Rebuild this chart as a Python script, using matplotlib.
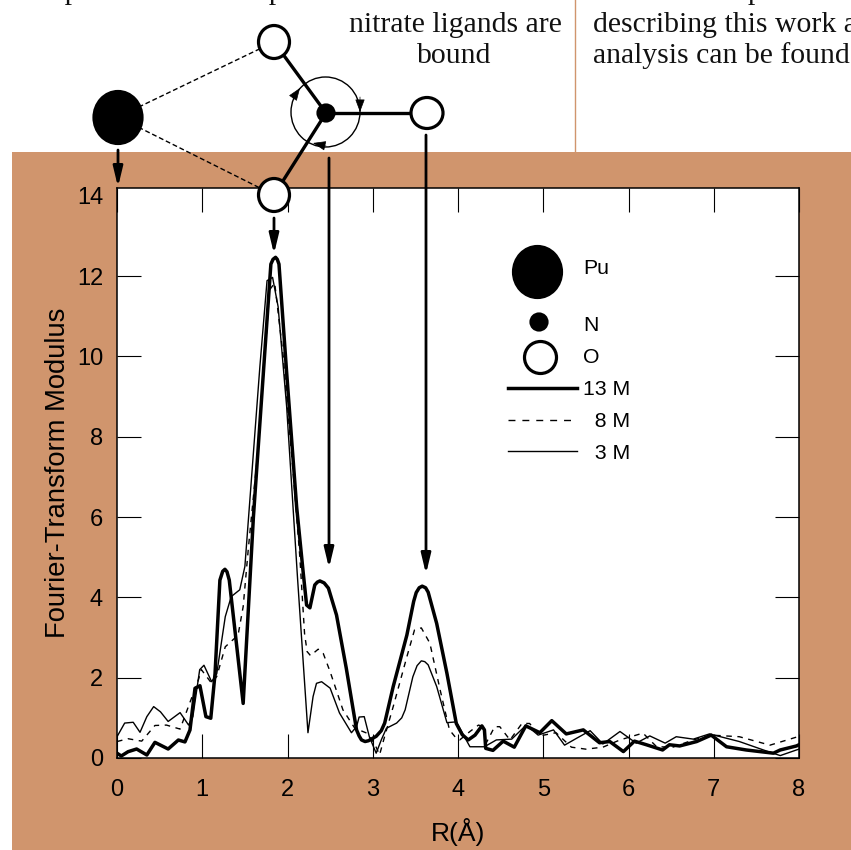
import matplotlib
matplotlib.use('Agg')
from matplotlib import pyplot as plt
from matplotlib.patches import Ellipse, Rectangle

TAN = '#d0956d'
SANS = 'Liberation Sans'
SERIF = 'Liberation Serif'

# values: R in angstrom, modulus
r_13m = [0.0, 0.05, 0.13, 0.23, 0.35, 0.445, 0.6, 0.72, 0.797, 0.856, 0.915, 0.973, 1.043, 1.10, 1.15,
         1.207, 1.24, 1.266, 1.29, 1.317, 1.48, 1.60, 1.805, 1.83, 1.86, 1.88, 1.90, 1.99, 2.107, 2.185, 2.224,
         2.263, 2.32, 2.35, 2.38, 2.43, 2.48, 2.575, 2.69, 2.81, 2.84, 2.868, 2.91, 2.95, 3.04, 3.10, 3.14, 3.24, 3.40, 3.48,
         3.51, 3.545, 3.58, 3.62, 3.65, 3.75, 3.87, 3.98,
         4.05, 4.12, 4.20, 4.28, 4.31, 4.325, 4.41, 4.53, 4.66, 4.795, 4.96, 5.10, 5.27, 5.47, 5.66, 5.78, 5.94,
         6.07, 6.21, 6.40, 6.48, 6.60, 6.80, 6.97, 7.15, 7.38, 7.70, 7.78, 7.97, 8.0]
m_13m = [0.12, 0.05, 0.157, 0.224, 0.075, 0.39, 0.224, 0.448, 0.4, 0.697, 1.736, 1.80, 1.03, 0.99, 2.1,
         4.43, 4.65, 4.70, 4.64, 4.43, 1.36, 6.0, 12.3, 12.42, 12.47, 12.42, 12.3, 9.6, 6.26, 4.6, 3.81,
         3.74, 4.31, 4.38, 4.41, 4.36, 4.23, 3.56, 2.23, 0.70, 0.55, 0.45, 0.41, 0.43, 0.54, 0.68, 0.87, 1.78, 3.06, 3.9,
         4.12, 4.24, 4.28, 4.24, 4.13, 3.35, 2.11, 0.86,
         0.58, 0.45, 0.57, 0.80, 0.70, 0.24, 0.19, 0.42, 0.27, 0.80, 0.63, 0.93, 0.60, 0.70, 0.38, 0.41, 0.16,
         0.42, 0.33, 0.20, 0.33, 0.30, 0.41, 0.57, 0.28, 0.20, 0.12, 0.20, 0.30, 0.33]

r_8m = [0.0, 0.13, 0.29, 0.445, 0.58, 0.74, 0.86, 0.955, 0.99, 1.11, 1.17, 1.27, 1.42, 1.48, 1.54, 1.657,
        1.79, 1.85, 1.95, 2.067, 2.145, 2.2, 2.23, 2.27, 2.36, 2.42, 2.50, 2.65, 2.79, 2.93, 3.02, 3.08,
        3.14, 3.24, 3.40, 3.49, 3.57, 3.67, 3.79, 3.90, 3.98, 4.02, 4.14, 4.24, 4.30, 4.33, 4.43, 4.49,
        4.61, 4.75, 4.84, 4.96, 5.15, 5.33, 5.50, 5.70, 5.90, 6.17, 6.33, 6.52, 6.76, 6.97, 7.30, 7.66,
        7.97, 8.0]
m_8m = [0.41, 0.48, 0.42, 0.81, 0.82, 0.72, 1.41, 1.95, 2.2, 1.86, 2.03, 2.77, 3.06, 3.77, 5.2, 7.75,
        11.66, 11.83, 10.0, 7.09, 5.0, 3.1, 2.65, 2.55, 2.71, 2.6, 2.15, 1.2, 0.74, 0.62, 0.36, 0.08,
        0.54, 1.28, 2.52, 3.19, 3.24, 2.86, 1.70, 0.70, 0.49, 0.45, 0.66, 0.82, 0.78, 0.37, 0.78, 0.78,
        0.45, 0.86, 0.86, 0.55, 0.63, 0.27, 0.22, 0.27, 0.45, 0.62, 0.28, 0.27, 0.45, 0.57, 0.53, 0.32,
        0.52, 0.54]

r_3m = [0.0, 0.09, 0.19, 0.27, 0.35, 0.43, 0.51, 0.60, 0.74, 0.84, 0.89, 0.97, 1.02, 1.11, 1.17, 1.27,
        1.34, 1.44, 1.50, 1.676, 1.76, 1.825, 1.89, 1.99, 2.118, 2.24, 2.30, 2.34, 2.40, 2.50, 2.61, 2.75,
        2.81, 2.84, 2.90, 2.96, 3.04, 3.10, 3.16, 3.28, 3.34, 3.38, 3.47, 3.52, 3.57, 3.61, 3.65, 3.75, 3.87, 3.98, 4.14,
        4.31, 4.45, 4.63, 4.80, 4.94, 5.12, 5.25, 5.39, 5.55, 5.70, 5.90, 6.09, 6.25, 6.43, 6.56, 6.76,
        6.95, 7.30, 7.61, 7.78, 7.97, 8.0]
m_3m = [0.53, 0.87, 0.89, 0.64, 1.03, 1.28, 1.15, 0.91, 1.13, 0.82, 1.03, 2.2, 2.31, 1.9, 2.1, 3.52,
        4.02, 4.19, 4.77, 9.75, 11.89, 11.97, 11.24, 8.75, 4.47, 0.63, 1.53, 1.86, 1.90, 1.74, 1.12, 0.63,
        0.78, 1.02, 1.03, 0.53, 0.12, 0.45, 0.74, 0.87, 1.0, 1.2, 2.02, 2.3, 2.42, 2.40, 2.32, 1.78, 0.88, 0.90, 0.28,
        0.28, 0.45, 0.47, 0.82, 0.57, 0.70, 0.32, 0.49, 0.68, 0.35, 0.66, 0.37, 0.55, 0.37, 0.53, 0.47,
        0.60, 0.41, 0.18, 0.06, 0.20, 0.22]

x_ticks = [0, 1, 2, 3, 4, 5, 6, 7, 8]
y_ticks = [0, 2, 4, 6, 8, 10, 12, 14]

fig = plt.figure(figsize=(8.51, 8.50), dpi=100)
W, H = 851, 850

# page overlay in pixel coordinates, for the tan panel, page text and the molecule
page = fig.add_axes([0, 0, 1, 1], zorder=0)
page.set_xlim(0, W)
page.set_ylim(H, 0)
page.axis('off')
page.add_patch(Rectangle((12, 152), W - 12, H - 152, fc=TAN, ec='none'))
page.plot([575, 575], [0, 152], color=TAN, lw=1)

for x, y, s, ha in [(455, 32, 'nitrate ligands are', 'center'), (454, 63, 'bound', 'center'),
                    (593, 32, 'describing this work a', 'left'), (593, 63, 'analysis can be found', 'left'),
                    (643, -1.5, 'The complete text', 'left'),
                    (34, -1.5, 'to position of these peaks indicates where', 'left')]:
    page.text(x, y, s, family=SERIF, fontsize=21.4, ha=ha, va='baseline', color='#111111', clip_on=True)

ax = fig.add_axes([117 / W, 1 - 758 / H, (799 - 117) / W, (758 - 188.5) / H], zorder=1)
ax.plot(r_3m, m_3m, color='black', lw=1.0, label='3 M', solid_joinstyle='round')
ax.plot(r_8m, m_8m, color='black', lw=1.0, ls=(0, (4, 4)), label='8 M')
ax.plot(r_13m, m_13m, color='black', lw=2.5, label='13 M', solid_joinstyle='round')
ax.set_xlim(0, 8)
ax.set_ylim(0, (758 - 188.5) / 40.15)
ax.set_xticks(x_ticks)
ax.set_yticks(y_ticks)
ax.tick_params(direction='in', length=17.3, width=0.8, top=True, right=True, labelsize=17)
ax.tick_params(axis='x', pad=15)
ax.tick_params(axis='y', pad=10)
# the reference has a label at 14 but no tick marks there
ax.yaxis.get_major_ticks()[-1].tick1line.set_visible(False)
ax.yaxis.get_major_ticks()[-1].tick2line.set_visible(False)
for label in ax.get_xticklabels() + ax.get_yticklabels():
    label.set_family(SANS)
for spine in ax.spines.values():
    spine.set_linewidth(1.1)
ax.set_xlabel('R(Å)', family=SANS, fontsize=19, labelpad=12)
ax.set_ylabel('Fourier-Transform Modulus', family=SANS, fontsize=19.7, labelpad=4)

handles, labels = ax.get_legend_handles_labels()
leg = ax.legend(handles[::-1], ['13 M', '  8 M', '  3 M'], loc='upper left', bbox_to_anchor=((508 - 117) / 682, (758 - 380) / 569.5),
                frameon=False, borderpad=0, borderaxespad=0, handlelength=3.25, handletextpad=0.28, labelspacing=0.61,
                prop={'family': SANS, 'size': 15.3})
leg.get_lines()[1].set_linestyle((0, (5, 5)))

# overlay above the plot: molecule, arrows and atom key
over = fig.add_axes([0, 0, 1, 1], zorder=2)
over.set_xlim(0, W)
over.set_ylim(H, 0)
over.axis('off')
over.patch.set_alpha(0)


def atom(x, y, rx, ry=None, filled=False, lw=2.3):
    ry = rx if ry is None else ry
    over.add_patch(Ellipse((x, y), 2 * rx, 2 * ry, fc='black' if filled else 'white', ec='black', lw=lw, zorder=5))


def arrow(x0, y0, x1, y1, lw=2.0, head=(0.75, 0.18), scale=16):
    over.annotate('', xy=(x1, y1), xytext=(x0, y0), zorder=4,
                  arrowprops=dict(arrowstyle=f'-|>,head_length={head[0]},head_width={head[1]}',
                                  color='black', lw=lw, shrinkA=0, shrinkB=0, mutation_scale=scale))


# bonds
for x0, y0, x1, y1 in [(326, 113, 274, 42), (326, 113, 274, 195), (326, 113, 427, 113)]:
    over.plot([x0, x1], [y0, y1], color='black', lw=2.4, zorder=3)
for x1, y1 in [(274, 42), (274, 195)]:
    over.plot([118, x1], [117, y1], color='black', lw=1.0, ls=(0, (3.5, 2)), zorder=3)

over.add_patch(Ellipse((325.5, 112), 69, 70, fc='none', ec='black', lw=1.0, zorder=3))
arrow(293, 98, 300, 88, lw=0.5, head=(0.8, 0.3), scale=10)
arrow(360, 97, 360, 112, lw=0.5, head=(0.8, 0.3), scale=10)
arrow(326, 146, 313, 143, lw=0.5, head=(0.8, 0.3), scale=10)

atom(118, 117.5, 24, 26, filled=True)
atom(274, 42, 15.5, 16.5)
atom(274, 195, 15.5, 16.5)
atom(427, 113, 16, 15.5)
atom(326, 113, 8, 8, filled=True)

arrow(118, 150, 118, 187)
arrow(274, 218, 274, 254)
arrow(329, 158, 329, 568)
arrow(426, 135, 426, 574)

atom(537.5, 272, 24, 25.5, filled=True)
atom(539, 322, 8, 8, filled=True)
atom(540.5, 357.5, 16, 16)
for y, s in [(274, 'Pu'), (331, 'N'), (363, 'O')]:
    over.text(583, y, s, family=SANS, fontsize=15.3, va='baseline', ha='left')

fig.savefig('out.png', dpi=100)
